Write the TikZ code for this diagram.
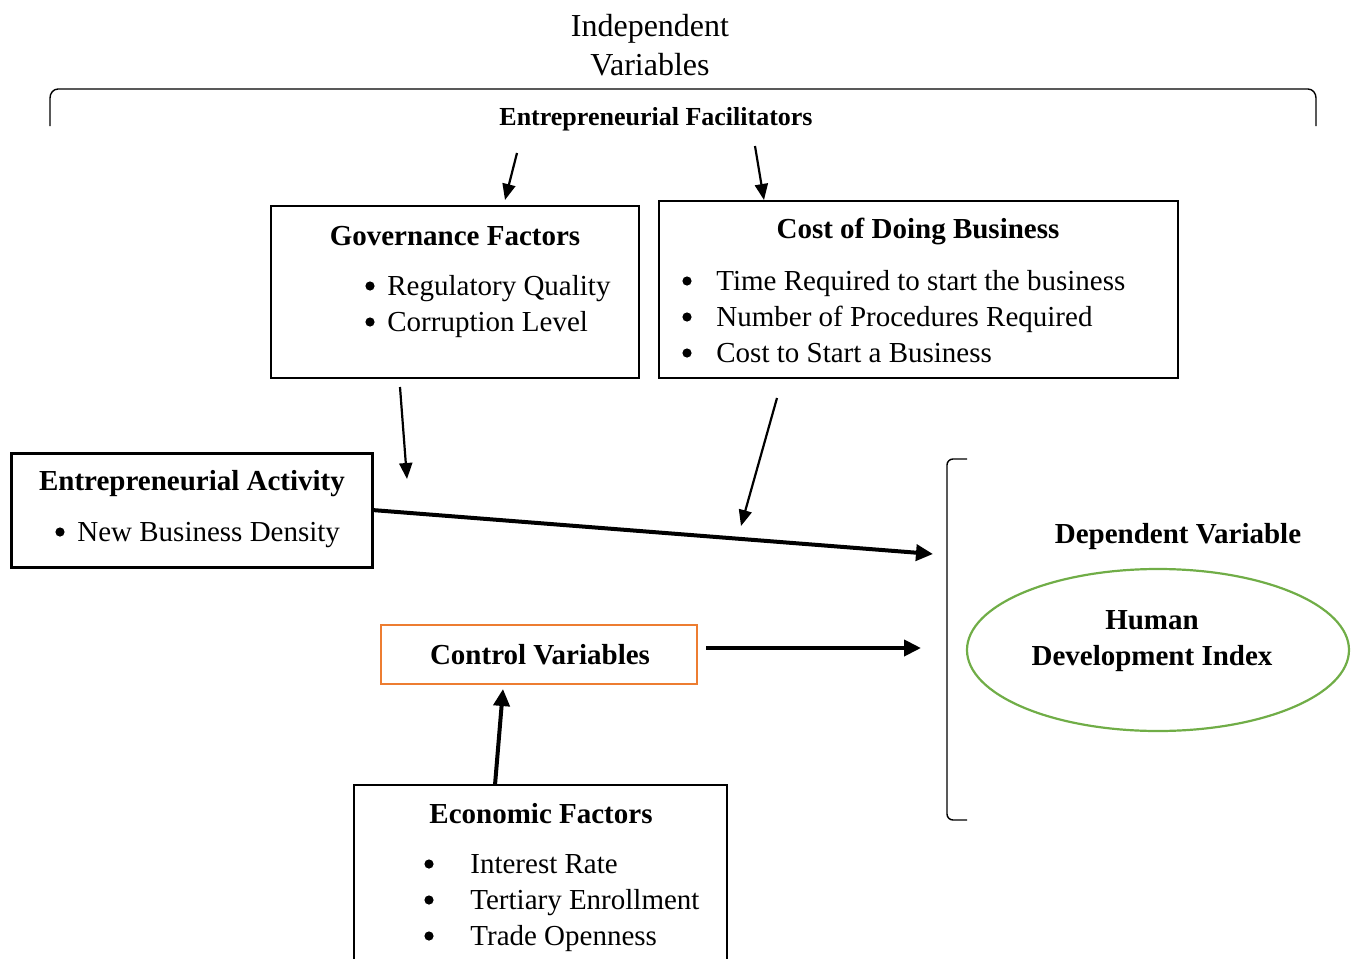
\documentclass[tikz,border=0pt]{standalone}
\usepackage{fontspec}
\setmainfont{Liberation Serif}
\usetikzlibrary{arrows.meta,shapes.geometric}
\definecolor{orangebox}{HTML}{ED7D31}
\definecolor{greenell}{HTML}{70AD47}
\begin{document}
\begin{tikzpicture}[x=0.5pt,y=-0.5pt,
  txt/.style={inner sep=0pt,anchor=mid west,font=\fontsize{14.5}{17}\selectfont},
  ttl/.style={inner sep=0pt,font=\fontsize{14.5}{17}\selectfont\bfseries},
  box/.style={draw,line width=0.75pt,inner sep=0pt},
  bul/.style={circle,fill,inner sep=0pt,minimum size=4.6pt},
  thinarrow/.style={line width=1.1pt,-{Triangle[length=8pt,width=6.5pt]}},
  thickarrow/.style={line width=2pt,-{Triangle[length=8.5pt,width=8pt]}}]
\useasboundingbox (0,0) rectangle (1357,959);
\clip (0,0) rectangle (1357,959);
% top heading
\node[inner sep=0pt,align=center,font=\fontsize{16}{19.5}\selectfont] (indep) at (650,45) {Independent\\Variables};
\draw[line width=0.7pt] (50,126) -- (50,98) to[out=90,in=180] (58,89) -- (1308,89) to[out=0,in=90] (1316,98) -- (1316,126);
\node[inner sep=0pt,font=\fontsize{13}{15}\selectfont\bfseries] (facil) at (656,119) {Entrepreneurial Facilitators};
% governance
\node[box,minimum width=184pt,minimum height=86pt] (gov) at (455,292) {};
\node[ttl] (govt) at (455,236) {Governance Factors};
\node[bul] (govb1) at (370,286) {};
\node[bul] (govb2) at (370,322) {};
\node[txt] (gov1) at (387,291) {Regulatory Quality};
\node[txt] (gov2) at (387,327) {Corruption Level};
% cost
\node[box,minimum width=259.5pt,minimum height=88.5pt] (cost) at (918.5,289.5) {};
\node[ttl] (costt) at (918,231) {Cost of Doing Business};
\node[bul] (costb1) at (687,281) {};
\node[bul] (costb2) at (687,317) {};
\node[bul] (costb3) at (687,353) {};
\node[txt] (cost1) at (716,286) {Time Required to start the business};
\node[txt] (cost2) at (716,322) {Number of Procedures Required};
\node[txt] (cost3) at (716,358) {Cost to Start a Business};
% entrepreneurial activity
\node[box,line width=1.5pt,minimum width=180.5pt,minimum height=57pt] (ea) at (191.5,510) {};
\node[ttl] (eat) at (192,484) {Entrepreneurial Activity};
\node[bul] (eab1) at (60,532) {};
\node[txt] (ea1) at (77,537) {New Business Density};
% control
\node[box,draw=orangebox,line width=1pt,minimum width=158pt,minimum height=29.5pt] (ctrl) at (539,654.5) {};
\node[ttl] (ctrlt) at (540,655) {Control Variables};
% economic
\node[box,minimum width=186.5pt,minimum height=100pt] (eco) at (540.5,885) {};
\node[ttl] (ecot) at (541,814) {Economic Factors};
\node[bul] (ecob1) at (429,864) {};
\node[bul] (ecob2) at (429,900) {};
\node[bul] (ecob3) at (429,936) {};
\node[txt] (eco1) at (470,869) {Interest Rate};
\node[txt] (eco2) at (470,905) {Tertiary Enrollment};
\node[txt] (eco3) at (470,941) {Trade Openness};
% dependent
\node[draw=greenell,line width=1.1pt,ellipse,minimum width=191pt,minimum height=81pt] (hdi) at (1158,650) {};
\node[ttl,align=center,font=\fontsize{14.5}{18}\selectfont\bfseries] (hdit) at (1152,641) {Human\\Development Index};
\node[ttl] (dep) at (1178,537) {Dependent Variable};
% bracket
\draw[line width=0.7pt] (967,459) -- (953,459) to[out=180,in=90] (947,465) -- (947,814) to[out=-90,in=180] (953,820) -- (967,820);
% connector end points
\coordinate (a1s) at (517,153); \coordinate (a1e) at (505,200);
\coordinate (a2s) at (755,146); \coordinate (a2e) at (764,200);
\coordinate (a3s) at (400,387); \coordinate (a3e) at (407,479);
\coordinate (a4s) at (777,398); \coordinate (a4e) at (741,526);
\coordinate (a5s) at (372,510); \coordinate (a5e) at (933,554);
\coordinate (a6s) at (706,648); \coordinate (a6e) at (921,648);
\coordinate (a7s) at (495,785); \coordinate (a7e) at (503,689);
\draw[thinarrow] (a1s) -- (a1e);
\draw[thinarrow] (a2s) -- (a2e);
\draw[thinarrow] (a3s) -- (a3e);
\draw[thinarrow] (a4s) -- (a4e);
\draw[thickarrow] (a5s) -- (a5e);
\draw[thickarrow] (a6s) -- (a6e);
\draw[thickarrow] (a7s) -- (a7e);
\end{tikzpicture}
\end{document}
